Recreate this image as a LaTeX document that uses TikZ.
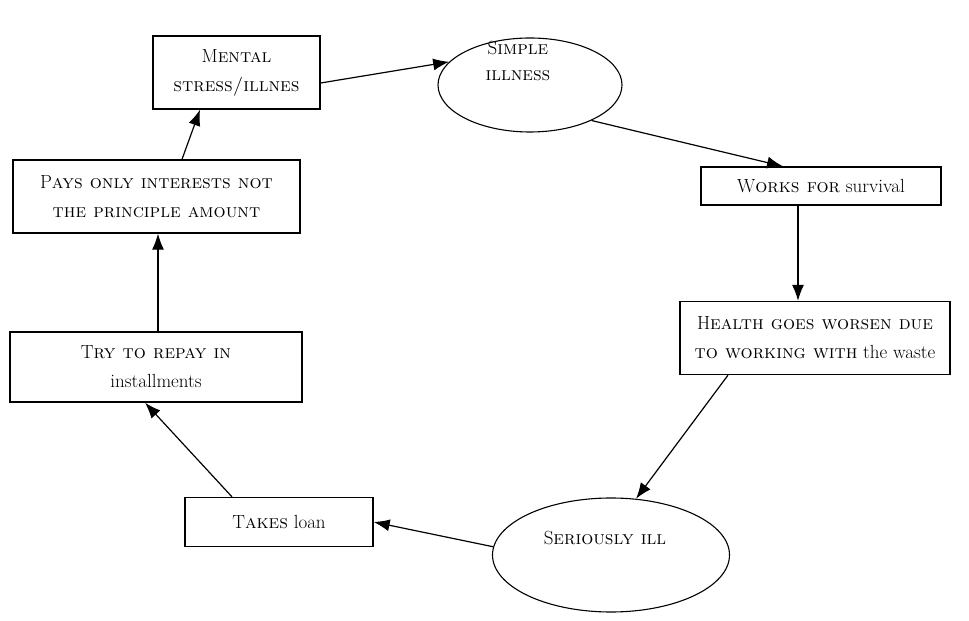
\documentclass[tikz,border=0pt]{standalone}
\usetikzlibrary{arrows.meta,shapes.geometric}
\begin{document}
\begin{tikzpicture}[x=1pt,y=1pt,
  box/.style={draw,line width=1.3pt,rectangle,inner sep=2pt,align=center,font=\fontsize{19}{29}\selectfont},
  oval/.style={draw,line width=1.1pt,ellipse,inner sep=0pt},
  lbl/.style={align=center,font=\fontsize{19}{26}\selectfont},
  arr/.style={line width=1.2pt,-{Latex[length=16pt,width=12pt]}}]
\useasboundingbox (0,0) rectangle (969,621);

% boxes of the cycle
\node[box,minimum width=167pt,minimum height=73pt] (mental) at (236.5,548.5)
  {M\textsc{ental}\\\textsc{stress/illnes}};
\node[oval,minimum width=184pt,minimum height=94pt] (simple) at (530,536) {};
\node[lbl] (simpletxt) at (518,560) {S\textsc{imple}\\\textsc{illness}};
\node[box,minimum width=240pt,minimum height=38pt] (works) at (821,435)
  {W\textsc{orks for} survival};
\node[box,minimum width=270pt,minimum height=73pt] (health) at (815,283)
  {H\textsc{ealth goes worsen due}\\\textsc{to working with} the waste};
\node[oval,minimum width=237pt,minimum height=114pt] (serious) at (611,66) {};
\node[lbl] (serioustxt) at (605,83) {S\textsc{eriously ill}};
\node[box,minimum width=188pt,minimum height=49pt] (loan) at (279,99)
  {T\textsc{akes} loan};
\node[box,minimum width=292pt,minimum height=70pt] (repay) at (156,254)
  {T\textsc{ry to repay in}\\installments};
\node[box,minimum width=287pt,minimum height=73pt] (pays) at (156.5,424.5)
  {P\textsc{ays only interests not}\\\textsc{the principle amount}};

% connectors
\draw[arr] ([yshift=-10.5pt]mental.east) -- (simple.164);
\draw[arr] (simple.-30) -- ([xshift=-38pt]works.north);
\draw[arr] ([xshift=-23pt]works.south) -- ([xshift=-17pt]health.north);
\draw[arr] ([xshift=-87pt]health.south) -- (serious.66);
\draw[arr] (serious.176) -- (loan.east);
\draw[arr] ([xshift=-47pt]loan.north) -- ([xshift=-11pt]repay.south);
\draw[arr] ([xshift=2pt]repay.north) -- ([xshift=1.5pt]pays.south);
\draw[arr] ([xshift=25.5pt]pays.north) -- ([xshift=-36.5pt]mental.south);
\end{tikzpicture}
\end{document}
